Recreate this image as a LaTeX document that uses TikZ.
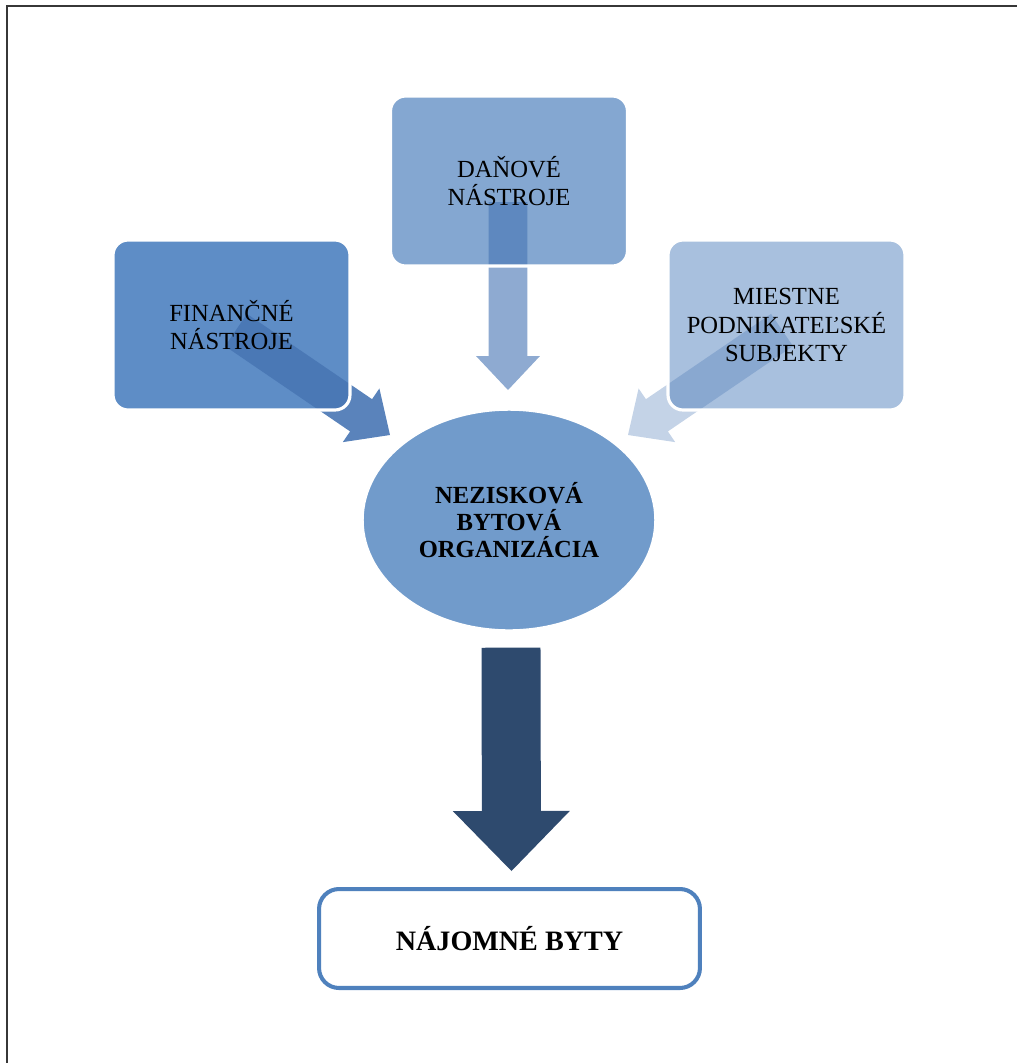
\documentclass[tikz,border=0pt]{standalone}
\usepackage{fontspec}
\setmainfont{Liberation Serif}
\usetikzlibrary{calc,shapes.geometric}

\definecolor{finblue}{RGB}{94,141,198}
\definecolor{danblue}{RGB}{132,167,209}
\definecolor{mieblue}{RGB}{168,192,222}
\definecolor{orgblue}{RGB}{113,155,203}
\definecolor{arrblue}{RGB}{72,118,180}
\definecolor{navyblue}{RGB}{46,74,110}
\definecolor{rimblue}{RGB}{79,129,189}
\definecolor{framegray}{RGB}{55,55,55}

\pgfdeclarelayer{fills}
\pgfdeclarelayer{arrows}
\pgfsetlayers{fills,arrows,main}

% fat arrow: style, tail, tip, shaft half width, head half width, head length
\newcommand{\blockarrow}[6]{%
  \coordinate (ah) at ($(#3)!#6!(#2)$);
  \fill[#1] ($(#2)!#4!90:(#3)$) -- ($(ah)!#4!90:(#3)$) -- ($(ah)!#5!90:(#3)$)
    -- (#3) -- ($(ah)!#5!-90:(#3)$) -- ($(ah)!#4!-90:(#3)$) -- ($(#2)!#4!-90:(#3)$) -- cycle;
}

\begin{document}
\begin{tikzpicture}[x=0.02cm, y=-0.02cm,
  toolbox/.style = {rectangle, rounded corners=0.3cm, draw=white, line width=1.8pt,
    minimum width=4.74cm, minimum height=3.4cm, align=center, inner sep=2pt,
    font=\fontsize{14}{16}\selectfont},
  hub/.style = {ellipse, fill=orgblue, draw=white, line width=0.8pt,
    minimum width=5.84cm, minimum height=4.4cm, align=center,
    font=\fontsize{14}{15.5}\selectfont\bfseries},
  result/.style = {rectangle, rounded corners=0.4cm, draw=rimblue, line width=2.3pt,
    fill=white, minimum width=7.62cm, minimum height=1.98cm,
    font=\fontsize{16}{18}\selectfont\bfseries}]
\useasboundingbox (0,0) rectangle (1017,1063);
\draw[framegray, line width=1.1pt] (7,1063) -- (7,6) -- (1017,6);

% boxes
\node[toolbox] (fin) at (231.5,325) {FINANČNÉ\\NÁSTROJE};
\node[toolbox] (dan) at (509,181) {DAŇOVÉ\\NÁSTROJE};
\node[toolbox] (mie) at (786.5,325) {MIESTNE\\PODNIKATEĽSKÉ\\SUBJEKTY};
\node[hub] (org) at (509,520) {NEZISKOVÁ\\BYTOVÁ\\ORGANIZÁCIA};
\node[result] (byty) at (509.5,938.5) {NÁJOMNÉ BYTY};

\begin{pgfonlayer}{fills}
\fill[finblue, rounded corners=0.3cm] ($(fin.north west)+(2,2)$) rectangle ($(fin.south east)+(-2,-2)$);
\fill[danblue, rounded corners=0.3cm] ($(dan.north west)+(2,2)$) rectangle ($(dan.south east)+(-2,-2)$);
\fill[mieblue, rounded corners=0.3cm] ($(mie.north west)+(2,2)$) rectangle ($(mie.south east)+(-2,-2)$);
\end{pgfonlayer}

% arrows
\coordinate (fintail) at (236,330);
\coordinate (fintip) at (390,435);
\coordinate (dantail) at (508,202);
\coordinate (dantip) at (508,390);
\coordinate (mietail) at (782,330);
\coordinate (mietip) at (628,435);
\coordinate (orgtail) at ($(org.south)+(2,17)$);
\coordinate (orgtip) at ($(byty.north)+(2,-16)$);
\begin{pgfonlayer}{arrows}
\blockarrow{arrblue, opacity=0.9}{fintail}{fintip}{0.39cm}{0.65cm}{0.7cm}
\blockarrow{arrblue, opacity=0.62}{dantail}{dantip}{0.39cm}{0.64cm}{0.68cm}
\blockarrow{arrblue, opacity=0.32}{mietail}{mietip}{0.39cm}{0.65cm}{0.7cm}
\blockarrow{navyblue}{orgtail}{orgtip}{0.59cm}{1.17cm}{1.2cm}
\end{pgfonlayer}
\end{tikzpicture}
\end{document}
